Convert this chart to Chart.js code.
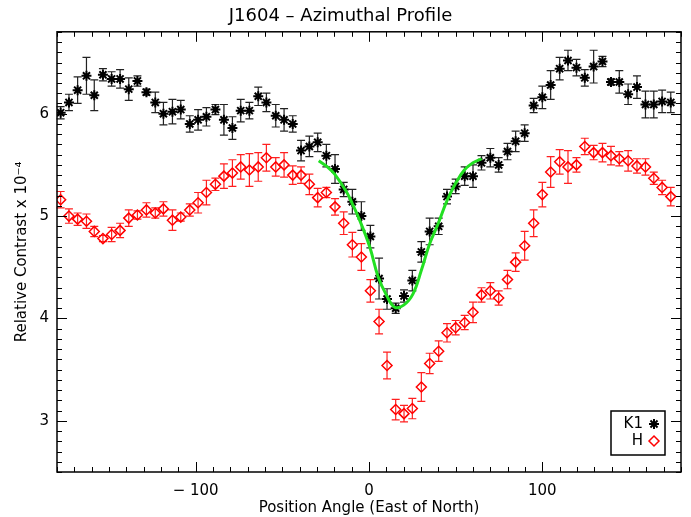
<!DOCTYPE html>
<html>
<head>
<meta charset="utf-8">
<script src="https://cdn.jsdelivr.net/npm/chart.js@4/dist/chart.umd.min.js"></script>
<style>
  html, body { margin: 0; padding: 0; background: #fff; }
</style>
</head>
<body>
<canvas id="profileChart" width="691" height="517"></canvas>
<script>
const angles = [
  -177.9, -173.1, -168.1, -163.0, -158.5, -153.5, -148.5, -143.6, -138.6, -133.6,
  -128.4, -123.3, -118.6, -113.4, -108.6, -103.4, -98.6, -93.8, -88.6, -83.7,
  -78.8, -74.0, -69.0, -63.9, -59.2, -53.8, -49.0, -44.0, -39.2, -34.4,
  -29.6, -24.6, -19.6, -14.6, -9.6, -4.4, 0.8, 5.8, 10.4, 15.4,
  20.2, 25.0, 30.2, 35.0, 40.2, 45.0, 50.0, 55.2, 60.0, 64.9,
  70.0, 74.8, 79.9, 84.6, 89.8, 95.0, 100.0, 104.8, 110.0, 114.8,
  119.7, 124.5, 129.6, 134.7, 139.6, 144.4, 149.5, 154.6, 159.5, 164.3,
  169.1, 174.1
];
const k1 = [
  6.01, 6.11, 6.23, 6.37, 6.18, 6.38, 6.34, 6.34, 6.24, 6.32,
  6.21, 6.11, 6.00, 6.02, 6.04, 5.90, 5.94, 5.97, 6.04, 5.94,
  5.86, 6.03, 6.03, 6.17, 6.11, 5.98, 5.94, 5.90, 5.64, 5.68,
  5.72, 5.59, 5.46, 5.26, 5.14, 5.00, 4.80, 4.39, 4.19, 4.10,
  4.22, 4.37, 4.65, 4.85, 4.90, 5.19, 5.29, 5.39, 5.39, 5.52,
  5.57, 5.50, 5.63, 5.73, 5.81, 6.08, 6.16, 6.28, 6.44, 6.52,
  6.45, 6.35, 6.46, 6.51, 6.31, 6.31, 6.19, 6.26, 6.09, 6.09,
  6.12, 6.11
];
const k1Err = [
  0.06, 0.08, 0.13, 0.18, 0.15, 0.06, 0.07, 0.09, 0.11, 0.05,
  0.03, 0.10, 0.11, 0.12, 0.09, 0.08, 0.10, 0.09, 0.05, 0.15,
  0.11, 0.11, 0.08, 0.09, 0.09, 0.11, 0.11, 0.08, 0.10, 0.10,
  0.09, 0.11, 0.14, 0.07, 0.12, 0.14, 0.11, 0.20, 0.10, 0.05,
  0.06, 0.10, 0.10, 0.13, 0.08, 0.07, 0.07, 0.09, 0.11, 0.07,
  0.09, 0.07, 0.08, 0.10, 0.08, 0.07, 0.11, 0.14, 0.11, 0.10,
  0.08, 0.08, 0.16, 0.05, 0.03, 0.11, 0.10, 0.11, 0.13, 0.13,
  0.11, 0.10
];
const h = [
  5.16, 5.00, 4.97, 4.95, 4.85, 4.78, 4.82, 4.86, 4.98, 5.01,
  5.06, 5.03, 5.07, 4.96, 4.99, 5.06, 5.13, 5.23, 5.31, 5.39,
  5.42, 5.48, 5.45, 5.48, 5.57, 5.48, 5.50, 5.40, 5.40, 5.31,
  5.18, 5.23, 5.09, 4.93, 4.72, 4.60, 4.27, 3.97, 3.54, 3.11,
  3.07, 3.12, 3.33, 3.56, 3.68, 3.86, 3.91, 3.96, 4.06, 4.23,
  4.27, 4.20, 4.38, 4.55, 4.71, 4.93, 5.21, 5.43, 5.53, 5.48,
  5.50, 5.68, 5.62, 5.62, 5.59, 5.56, 5.54, 5.49, 5.48, 5.37,
  5.28, 5.19
];
const hErr = [
  0.08, 0.07, 0.06, 0.07, 0.05, 0.03, 0.07, 0.07, 0.08, 0.04,
  0.07, 0.05, 0.07, 0.10, 0.04, 0.06, 0.10, 0.12, 0.06, 0.12,
  0.13, 0.12, 0.16, 0.14, 0.13, 0.09, 0.12, 0.09, 0.08, 0.10,
  0.09, 0.05, 0.08, 0.11, 0.12, 0.13, 0.11, 0.12, 0.13, 0.10,
  0.08, 0.10, 0.14, 0.10, 0.10, 0.09, 0.07, 0.07, 0.10, 0.07,
  0.08, 0.07, 0.09, 0.09, 0.14, 0.13, 0.12, 0.15, 0.12, 0.16,
  0.07, 0.08, 0.07, 0.09, 0.09, 0.07, 0.10, 0.07, 0.08, 0.06,
  0.07, 0.09
];
// green model curve through the K1 dip
const fitAngles = [-29, -24, -19.8, -13.1, -9.6, -5.4, 0.4, 5.2, 10, 14.8, 20, 25.4, 30.2, 35, 40, 45, 50, 55, 60, 65];
const fitValues = [5.54, 5.48, 5.41, 5.24, 5.12, 4.96, 4.70, 4.41, 4.23, 4.11, 4.13, 4.24, 4.47, 4.73, 4.93, 5.15, 5.32, 5.45, 5.52, 5.56];

const xTicks = [-100, 0, 100];
const yTicks = [3, 4, 5, 6];
const xRange = [-180, 180];
const yRange = [2.5, 6.8];

const FONT = 'DejaVu Sans';

const pts = (xs, ys) => xs.map((x, i) => ({ x: x, y: ys[i] }));

// vertical error bars with caps, drawn under the markers
const errorBars = {
  id: 'errorBars',
  beforeDatasetsDraw(chart) {
    const { ctx, scales: { x, y } } = chart;
    ctx.save();
    chart.data.datasets.forEach((ds) => {
      if (!ds.errors) return;
      ctx.strokeStyle = ds.errorColor;
      ctx.lineWidth = 1.2;
      ds.data.forEach((p, i) => {
        const e = ds.errors[i];
        const px = x.getPixelForValue(p.x);
        const top = y.getPixelForValue(p.y + e);
        const bot = y.getPixelForValue(p.y - e);
        ctx.beginPath();
        ctx.moveTo(px, top); ctx.lineTo(px, bot);
        ctx.moveTo(px - 4, top); ctx.lineTo(px + 4, top);
        ctx.moveTo(px - 4, bot); ctx.lineTo(px + 4, bot);
        ctx.stroke();
      });
    });
    ctx.restore();
  }
};

// IDL-style box with inward ticks on all four sides
const frame = {
  id: 'frame',
  afterDraw(chart) {
    const { ctx, chartArea: a, scales: { x, y } } = chart;
    ctx.save();
    ctx.strokeStyle = '#000';
    ctx.lineWidth = 1.5;
    ctx.strokeRect(a.left, a.top, a.right - a.left, a.bottom - a.top);
    ctx.lineWidth = 1;
    ctx.beginPath();
    for (let v = xRange[0]; v <= xRange[1]; v += 10) {
      const px = Math.round(x.getPixelForValue(v)) + 0.5;
      const len = v % 100 === 0 ? 10 : 5;
      ctx.moveTo(px, a.bottom); ctx.lineTo(px, a.bottom - len);
      ctx.moveTo(px, a.top); ctx.lineTo(px, a.top + len);
    }
    for (let k = Math.round(yRange[0] * 10); k <= Math.round(yRange[1] * 10); k++) {
      const py = Math.round(y.getPixelForValue(k / 10)) + 0.5;
      const len = k % 10 === 0 ? 10 : 5;
      ctx.moveTo(a.left, py); ctx.lineTo(a.left + len, py);
      ctx.moveTo(a.right, py); ctx.lineTo(a.right - len, py);
    }
    ctx.stroke();
    ctx.restore();
  }
};

// legend box in the lower right corner: label then symbol
const cornerLegend = {
  id: 'cornerLegend',
  afterDraw(chart) {
    const { ctx, chartArea: a } = chart;
    const w = 54, hgt = 44;
    const left = a.right - 16 - w, top = a.bottom - 17 - hgt;
    ctx.save();
    ctx.fillStyle = '#fff';
    ctx.fillRect(left, top, w, hgt);
    ctx.strokeStyle = '#000';
    ctx.lineWidth = 1.5;
    ctx.strokeRect(left, top, w, hgt);
    ctx.font = '15px "' + FONT + '"';
    ctx.textAlign = 'right';
    ctx.textBaseline = 'middle';
    chart.data.datasets.filter((ds) => ds.errors).forEach((ds, i) => {
      const cy = top + 13 + i * 17;
      ctx.fillStyle = '#000';
      ctx.fillText(ds.label, left + 32, cy);
      ctx.strokeStyle = ds.borderColor;
      ctx.fillStyle = ds.backgroundColor;
      ctx.lineWidth = ds.pointBorderWidth;
      Chart.helpers.drawPoint(ctx, { pointStyle: ds.pointStyle, radius: ds.pointRadius, borderWidth: ds.pointBorderWidth }, left + 43, cy);
    });
    ctx.restore();
  }
};

new Chart(document.getElementById('profileChart'), {
  type: 'scatter',
  data: {
    datasets: [
      {
        label: 'K1',
        data: pts(angles, k1),
        errors: k1Err,
        errorColor: '#222',
        pointStyle: 'star',
        pointRadius: 5,
        pointBorderWidth: 2,
        borderColor: '#000',
        backgroundColor: '#000',
        showLine: false,
        order: 2,
      },
      {
        label: 'H',
        data: pts(angles, h),
        errors: hErr,
        errorColor: '#ff2020',
        pointStyle: 'rectRot',
        pointRadius: 5,
        pointBorderWidth: 1.5,
        borderColor: '#ff0000',
        backgroundColor: 'rgba(255,255,255,0)',
        showLine: false,
        order: 3,
      },
      {
        label: 'fit',
        data: pts(fitAngles, fitValues),
        showLine: true,
        borderColor: '#22e022',
        borderWidth: 3,
        pointRadius: 0,
        tension: 0.4,
        order: 1,
      },
    ],
  },
  options: {
    responsive: false,
    devicePixelRatio: 1,
    animation: false,
    layout: { padding: { right: 10 } },
    plugins: {
      legend: { display: false },
      tooltip: { enabled: false },
      title: {
        display: true,
        text: 'J1604 – Azimuthal Profile',
        color: '#000',
        font: { family: FONT, size: 18, weight: 'normal', lineHeight: 1.1 },
        padding: { top: 6, bottom: 6 },
      },
    },
    scales: {
      x: {
        type: 'linear',
        min: xRange[0],
        max: xRange[1],
        afterBuildTicks: (axis) => { axis.ticks = xTicks.map((v) => ({ value: v })); },
        afterFit: (axis) => { axis.height = 45; },
        grid: { display: false, drawTicks: false },
        border: { display: false },
        ticks: {
          color: '#000',
          font: { family: FONT, size: 15 },
          padding: 10,
          maxRotation: 0,
          callback: (v) => (v < 0 ? '− ' + Math.abs(v) : String(v)),
        },
        title: {
          display: true,
          text: 'Position Angle (East of North)',
          color: '#000',
          font: { family: FONT, size: 15 },
          padding: { top: 0, bottom: 0 },
        },
      },
      y: {
        type: 'linear',
        min: yRange[0],
        max: yRange[1],
        afterBuildTicks: (axis) => { axis.ticks = yTicks.map((v) => ({ value: v })); },
        afterFit: (axis) => { axis.width = 57; },
        grid: { display: false, drawTicks: false },
        border: { display: false },
        ticks: { color: '#000', font: { family: FONT, size: 15 }, padding: 8 },
        title: {
          display: true,
          text: 'Relative Contrast x 10⁻⁴',
          color: '#000',
          font: { family: FONT, size: 15 },
          padding: { top: 13, bottom: 0 },
        },
      },
    },
  },
  plugins: [errorBars, frame, cornerLegend],
});
</script>
</body>
</html>
